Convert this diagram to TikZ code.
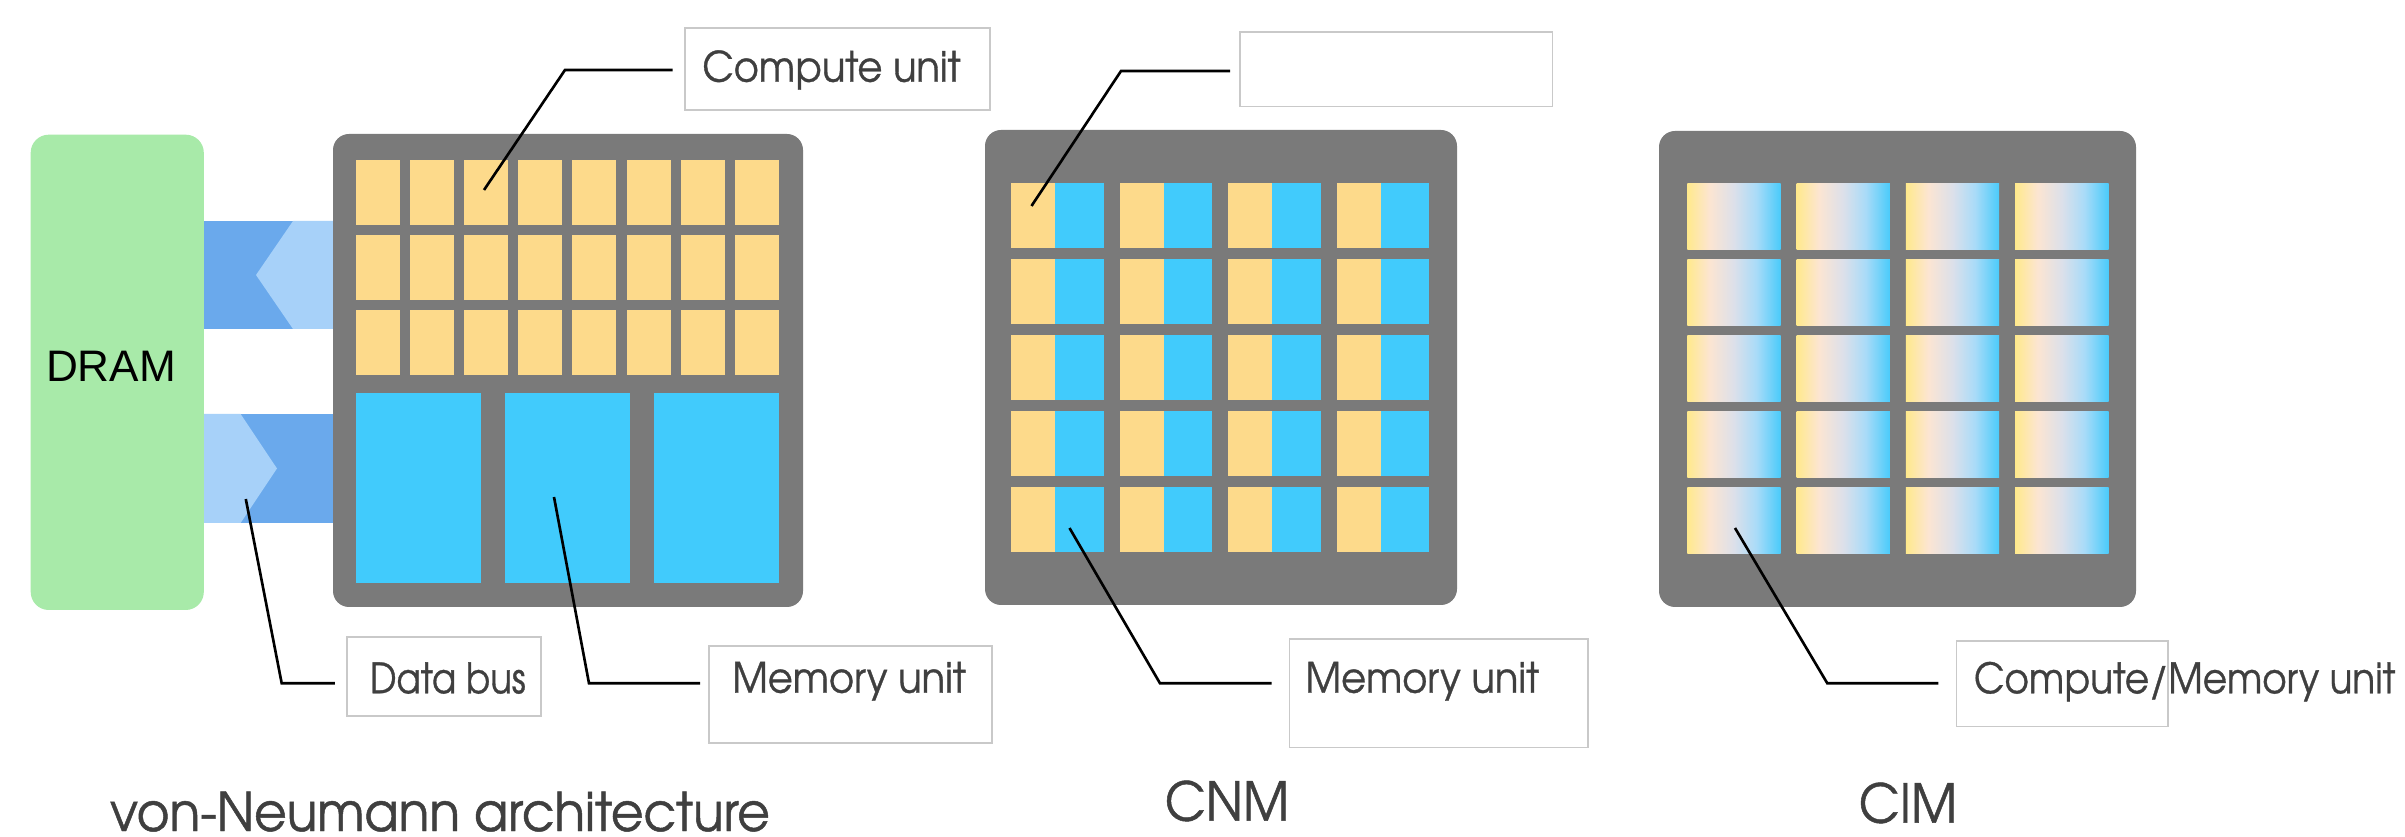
\documentclass[tikz,border=0pt]{standalone}
\usepackage{fontspec}
\newfontfamily\gfont[FakeStretch=0.92,FakeBold=0.8]{texgyreadventor-regular.otf}
\newfontfamily\gfontn[FakeStretch=0.85,FakeBold=0.8]{texgyreadventor-regular.otf}
\newfontfamily\gfontm[FakeStretch=0.895,FakeBold=0.8]{texgyreadventor-regular.otf}
\newfontfamily\tfont[FakeStretch=0.94,FakeBold=0.9]{texgyreadventor-regular.otf}
\newfontfamily\afont{Liberation Sans}
\usetikzlibrary{calc}
\definecolor{dramg}{HTML}{A8EAA9}
\definecolor{chipgray}{HTML}{7A7A7A}
\definecolor{ycol}{HTML}{FDDA8B}
\definecolor{bcol}{HTML}{41CBFC}
\definecolor{busdark}{HTML}{6AA9EC}
\definecolor{buslight}{HTML}{A7D1F9}
\definecolor{boxgray}{HTML}{C9C9C9}
\definecolor{txtgray}{HTML}{3F3F3F}
\definecolor{cimy}{HTML}{FFE98C}
\definecolor{cimp}{HTML}{FCE5D2}
\definecolor{cimg}{HTML}{DCE0EA}
\definecolor{ciml}{HTML}{A9DBF8}
\definecolor{cimb}{HTML}{4ACBFA}
\pgfdeclarehorizontalshading{cimshade}{100bp}{color(0bp)=(cimy); color(25bp)=(cimy); color(37bp)=(cimp); color(50bp)=(cimg); color(62bp)=(ciml); color(75bp)=(cimb); color(100bp)=(cimb)}
\begin{document}
\begin{tikzpicture}[x=0.01cm,y=-0.01cm,
  chip/.style={fill=chipgray, rounded corners=0.16cm},
  ycell/.style={fill=ycol},
  bcell/.style={fill=bcol},
  ccell/.style={shading=cimshade},
  leader/.style={draw=black, line width=0.75pt},
  lbox/.style={draw=boxgray, line width=0.45pt, fill=white, inner sep=0pt, anchor=north west},
  ltext/.style={text=txtgray, font=\gfont\fontsize{11.9}{14}\selectfont, anchor=base west, inner sep=0pt},
  ttext/.style={text=txtgray, font=\tfont\fontsize{15.2}{18}\selectfont, anchor=base, inner sep=0pt},
]
\useasboundingbox[fill=white] (0,0) rectangle (2405,837);

% ---------- von Neumann ----------
% data buses
\fill[busdark] (190,221) rectangle (340,329);
\fill[buslight] (293,221) -- (340,221) -- (340,329) -- (293,329) -- (256,275) -- cycle;
\fill[busdark] (190,414) rectangle (340,523);
\fill[buslight] (190,414) -- (240.6,414) -- (277,468.5) -- (240.6,523) -- (190,523) -- cycle;

% DRAM
\node[fill=dramg, rounded corners=0.18cm, minimum width=1.73cm, minimum height=4.75cm, anchor=north west, inner sep=0pt] (dram) at (30,134) {};
\node[font=\afont\fontsize{12.55}{15}\selectfont, anchor=base, inner sep=0pt] (dramt) at (111,381.6) {DRAM};

% chip
\path[chip] (333,134) rectangle (803,607);
\foreach \c in {0,...,7}
  \foreach \r in {0,1,2}
    \fill[ycell] ({355.6+\c*54.2},{160+\r*75}) rectangle ++(44,65);
\fill[bcell] (355.6,393) rectangle (481,583);
\fill[bcell] (505,393) rectangle (630,583);
\fill[bcell] (654,393) rectangle (779,583);

% labels
\node[lbox, minimum width=3.05cm, minimum height=0.82cm] (bcomp) at (684,27.3) {};
\node[ltext] (tcomp) at (701.7,81.7) {Compute unit};
\node[lbox, minimum width=1.94cm, minimum height=0.793cm] (bbus) at (346,636) {};
\node[ltext, font=\gfontn\fontsize{11.9}{14}\selectfont] (tbus) at (369.3,693.3) {Data bus};
\node[lbox, minimum width=2.83cm, minimum height=0.973cm] (bmem) at (708.3,645) {};
\node[ltext] (tmem) at (731.7,692.7) {Memory unit};

\coordinate (pcomp) at (484,190);   \coordinate (kcomp) at (565,70);
\coordinate (pbus) at (245.8,499);  \coordinate (kbus) at (281.7,683.3);
\coordinate (pmem) at (554,497);    \coordinate (kmem) at (589,683.3);
\draw[leader] (pcomp) -- (kcomp) -- ([xshift=-0.113cm]kcomp -| bcomp.west);
\draw[leader] (pbus) -- (kbus) -- ([xshift=-0.11cm]kbus -| bbus.west);
\draw[leader] (pmem) -- (kmem) -- ([xshift=-0.083cm]kmem -| bmem.west);

\node[ttext] (tvn) at (440,831) {von-Neumann architecture};

% ---------- CNM ----------
\path[chip] (985,130) rectangle (1457,605);
\foreach \c in {0,...,3}
  \foreach \r in {0,...,4} {
    \fill[ycell] ({1011.4+\c*108.4},{183+\r*75.9}) rectangle ++(44,65.5);
    \fill[bcell] ({1055.4+\c*108.4},{183+\r*75.9}) rectangle ++(48.5,65.5);
  }
\node[lbox, minimum width=3.126cm, minimum height=0.746cm] (bcnmtop) at (1239,31) {};
\node[lbox, minimum width=2.983cm, minimum height=1.084cm] (bcnmmem) at (1288.7,638.3) {};
\node[ltext] (tcnmmem) at (1305,692.7) {Memory unit};
\coordinate (pcnmtop) at (1031.5,206); \coordinate (kcnmtop) at (1121,71);
\coordinate (pcnmmem) at (1069.5,528); \coordinate (kcnmmem) at (1160,683.3);
\draw[leader] (pcnmtop) -- (kcnmtop) -- ([xshift=-0.09cm]kcnmtop -| bcnmtop.west);
\draw[leader] (pcnmmem) -- (kcnmmem) -- ([xshift=-0.17cm]kcnmmem -| bcnmmem.west);
\node[ttext] (tcnm) at (1227,820.7) {CNM};

% ---------- CIM ----------
\path[chip] (1659,131) rectangle (2136,607);
\foreach \c in {0,...,3}
  \foreach \r in {0,...,4}
    \shade[ccell] ({1687.3+\c*109.3},{183.3+\r*76.1}) rectangle ++(93.3,66);
\node[lbox, minimum width=2.116cm, minimum height=0.857cm] (bcim) at (1955.7,640) {};
\node[ltext, font=\gfontm\fontsize{11.9}{14}\selectfont] (tcim) at (1973.3,693.3) {Compute/Memory unit};
\coordinate (pcim) at (1735,528); \coordinate (kcim) at (1827.3,683.3);
\draw[leader] (pcim) -- (kcim) -- ([xshift=-0.174cm]kcim -| bcim.west);
\node[ttext] (tcimt) at (1908,822.7) {CIM};
\end{tikzpicture}
\end{document}
